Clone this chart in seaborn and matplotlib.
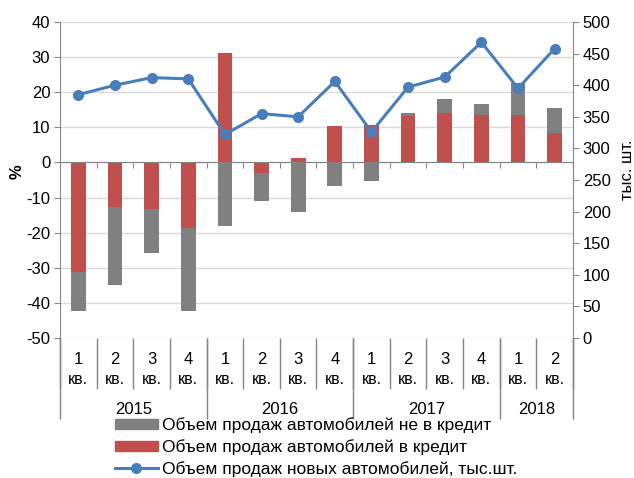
import numpy as np
import pandas as pd
import matplotlib
matplotlib.use("Agg")
import matplotlib.pyplot as plt
from matplotlib.patches import Patch
from matplotlib.lines import Line2D
import seaborn as sns

# quarters 2015 Q1 .. 2018 Q2
years = ["2015", "2016", "2017", "2018"]
quarters_per_year = [4, 4, 4, 2]
quarter_labels = ["1\nкв.", "2\nкв.", "3\nкв.", "4\nкв.",
                  "1\nкв.", "2\nкв.", "3\nкв.", "4\nкв.",
                  "1\nкв.", "2\nкв.", "3\nкв.", "4\nкв.",
                  "1\nкв.", "2\nкв."]
# contribution to growth, % (credit / non-credit)
credit = [-31.1, -12.8, -13.4, -18.8, 31.1, -3.1, 1.4, 10.4, 10.6, 13.3, 14.2, 13.6, 13.6, 8.5]
non_credit = [-11.1, -22.2, -12.3, -23.6, -18.1, -7.8, -14.1, -6.7, -5.3, 0.8, 3.8, 3.0, 9.1, 7.0]
# new car sales, thousand units
sales = [385, 400, 412, 410, 322, 355, 350, 406, 326, 397, 413, 468, 395, 458]

RED = "#C0504D"
GRAY = "#808080"
BLUE = "#4A7EBB"
AXIS = "#868686"

plt.rcParams["font.family"] = ["Liberation Sans", "DejaVu Sans"]
plt.rcParams["font.size"] = 12
plt.rcParams["axes.unicode_minus"] = False

n = len(credit)
ids = [f"q{i}" for i in range(n)]
df = pd.DataFrame({"q": ids, "credit": credit, "non_credit": non_credit})
# gray stacks on the red segment when signs match, otherwise starts at zero
same = np.sign(df["credit"]) == np.sign(df["non_credit"])
df["gray_total"] = np.where(same, df["credit"] + df["non_credit"], df["non_credit"])

fig = plt.figure(figsize=(6.34, 4.78), dpi=100)
ax = fig.add_axes([60 / 634, 1 - 338 / 478, (573 - 60) / 634, (338 - 22) / 478])

sns.barplot(data=df, x="q", y="gray_total", order=ids, color=GRAY, saturation=1,
            width=0.4, linewidth=0, ax=ax)
sns.barplot(data=df, x="q", y="credit", order=ids, color=RED, saturation=1,
            width=0.4, linewidth=0, ax=ax)

ax.set_xlim(-0.5, n - 0.5)
ax.set_ylim(-50, 40)
ax.set_yticks(range(-50, 41, 10))
ax.yaxis.grid(True, color="#D9D9D9", linewidth=1)
ax.set_axisbelow(True)
ax.set_xlabel("")
ax.set_ylabel("")
for s in ["top", "right"]:
    ax.spines[s].set_visible(False)
ax.spines["left"].set_color(AXIS)
ax.spines["bottom"].set_color(AXIS)
ax.spines["bottom"].set_position(("data", 0))
ax.set_xticks(np.arange(n + 1) - 0.5)
ax.set_xticklabels([])
ax.tick_params(axis="x", length=4, color=AXIS, direction="out")
ax.tick_params(axis="y", length=4, color=AXIS, labelsize=12, pad=3)

# two-level category axis below the plot
tr = ax.get_xaxis_transform()
bounds = np.arange(n + 1) - 0.5
year_bounds = np.concatenate([[0], np.cumsum(quarters_per_year)]) - 0.5
ax.vlines(bounds, -51 / 316, 0, transform=tr, color=AXIS, linewidth=1, clip_on=False)
ax.vlines(year_bounds, -81 / 316, 0, transform=tr, color=AXIS, linewidth=1, clip_on=False)
for i, lab in enumerate(quarter_labels):
    num, kv = lab.split("\n")
    ax.text(i, -22 / 316, num, transform=tr, ha="center", va="center", fontsize=12)
    ax.text(i, -42 / 316, kv, transform=tr, ha="center", va="center", fontsize=11.5)
for k, y in enumerate(years):
    mid = (year_bounds[k] + year_bounds[k + 1]) / 2
    ax.text(mid, -72 / 316, y, transform=tr, ha="center", va="center", fontsize=12)

ax2 = ax.twinx()
sns.lineplot(x=np.arange(n), y=sales, ax=ax2, color=BLUE, linewidth=2.2,
             marker="o", markersize=8, markeredgewidth=0)
ax2.set_ylim(0, 500)
ax2.set_yticks(range(0, 501, 50))
ax2.set_ylabel("")
for s in ["top", "left", "bottom"]:
    ax2.spines[s].set_visible(False)
ax2.spines["right"].set_color(AXIS)
ax2.tick_params(axis="y", length=4, color=AXIS, labelsize=12, pad=3)

fig.text(17 / 634, 1 - 172 / 478, "%", rotation=90, ha="center", va="center",
         fontsize=12, fontweight="bold")
fig.text(627 / 634, 1 - 170 / 478, "тыс. шт.", rotation=90, ha="center", va="center",
         fontsize=12)

handles = [
    Patch(color=GRAY, label="Объем продаж автомобилей не в кредит"),
    Patch(color=RED, label="Объем продаж автомобилей в кредит"),
    Line2D([], [], color=BLUE, linewidth=2.2, marker="o", markersize=8,
           markeredgewidth=0, label="Объем продаж новых автомобилей, тыс.шт."),
]
fig.legend(handles=handles, loc="upper left", bbox_to_anchor=(115 / 634, 1 - 417 / 478),
           frameon=False, fontsize=12.5, handlelength=2.45, handleheight=0.5,
           handletextpad=0.25, labelspacing=0.35, borderpad=0, borderaxespad=0)

fig.savefig("out.png", dpi=100)
